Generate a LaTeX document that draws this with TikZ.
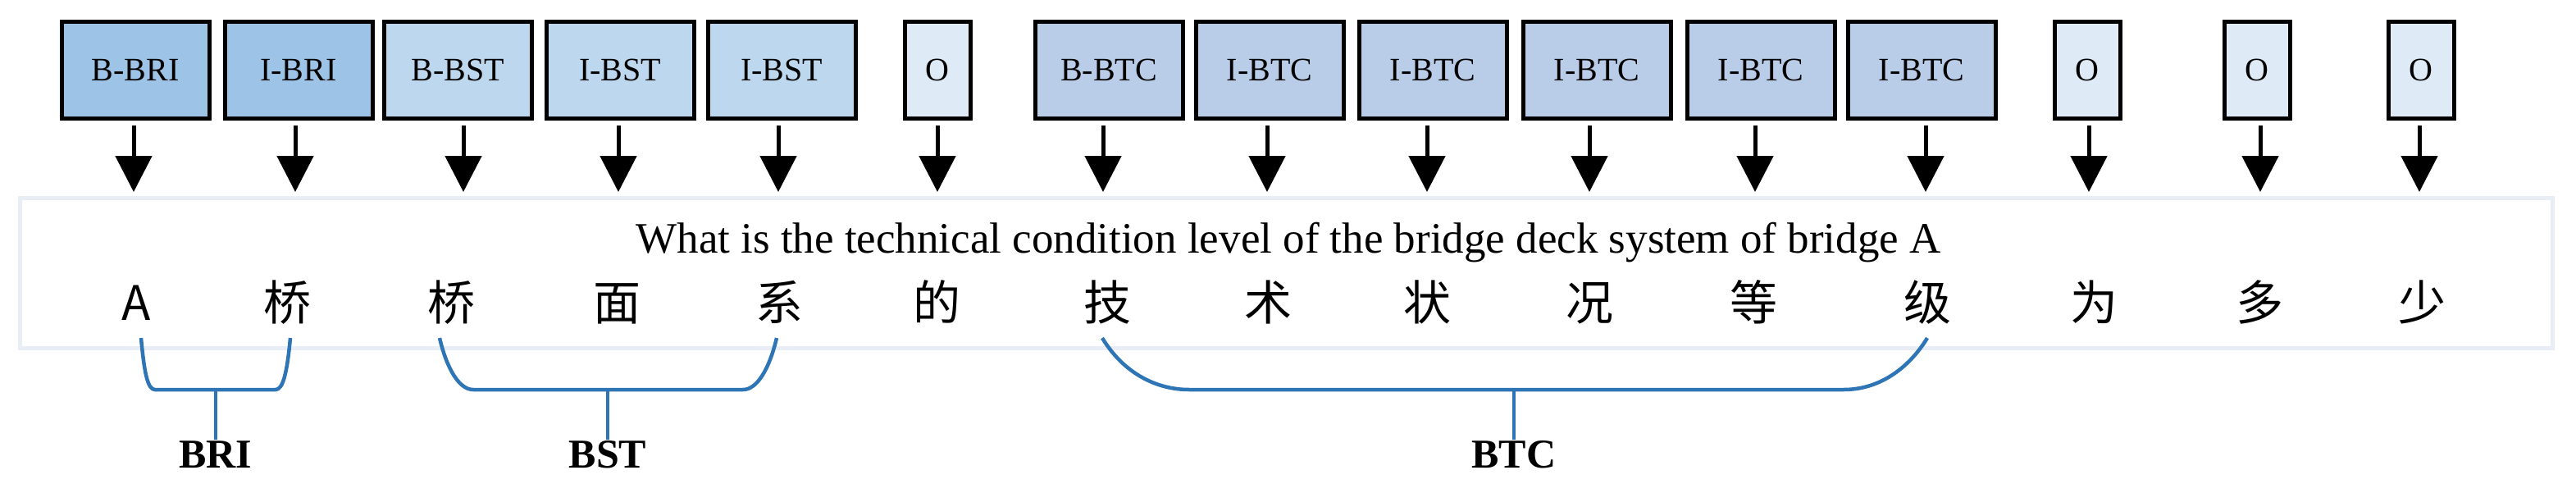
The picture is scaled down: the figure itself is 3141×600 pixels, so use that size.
\documentclass[tikz,border=0pt]{standalone}
\usepackage{fontspec}
\setmainfont{Liberation Serif}
\newfontfamily\cjk{Noto Sans CJK SC}
\usetikzlibrary{arrows.meta}
\definecolor{cbri}{HTML}{9DC3E6}
\definecolor{cbst}{HTML}{BDD7EE}
\definecolor{cbtc}{HTML}{BACDE8}
\definecolor{co}{HTML}{DEEBF7}
\definecolor{cbr}{HTML}{2E75B6}
\definecolor{cframe}{HTML}{E9EDF6}
\begin{document}
\begin{tikzpicture}[x=1pt,y=-1pt,
  tag/.style={draw=black,line width=5pt,minimum height=118pt,inner sep=0pt,font=\fontsize{40}{46}\selectfont},
  big/.style={tag,minimum width=180pt},
  small/.style={tag,minimum width=80pt},
  arr/.style={line width=5pt,-{Triangle[length=44pt,width=44pt]}},
  ch/.style={font=\fontsize{58}{64}\selectfont\cjk,anchor=base},
  br/.style={draw=cbr,line width=4.5pt},
  lab/.style={font=\fontsize{50}{56}\selectfont\bfseries,anchor=base}]
\useasboundingbox (0,0) rectangle (3141,600);
\draw[cframe,line width=5pt] (24,241) rectangle (3112,424);
\node[ch] (c1) at (166,390) {A};
\node[ch] (c2) at (350,390) {桥};
\node[ch] (c3) at (550,390) {桥};
\node[ch] (c4) at (752,390) {面};
\node[ch] (c5) at (950,390) {系};
\node[ch] (c6) at (1142,390) {的};
\node[ch] (c7) at (1350,390) {技};
\node[ch] (c8) at (1546,390) {术};
\node[ch] (c9) at (1740,390) {状};
\node[ch] (c10) at (1938,390) {况};
\node[ch] (c11) at (2138,390) {等};
\node[ch] (c12) at (2350,390) {级};
\node[ch] (c13) at (2553,390) {为};
\node[ch] (c14) at (2755,390) {多};
\node[ch] (c15) at (2953,390) {少};
\node[font=\fontsize{53}{60}\selectfont,anchor=base] (en) at (1571,308) {What is the technical condition level of the bridge deck system of bridge A};
\node[big,fill=cbri] (t1) at (165,85) {B-BRI};
\node[big,fill=cbri] (t2) at (364,85) {I-BRI};
\node[big,fill=cbst] (t3) at (558,85) {B-BST};
\node[big,fill=cbst] (t4) at (756,85) {I-BST};
\node[big,fill=cbst] (t5) at (953,85) {I-BST};
\node[small,fill=co] (t6) at (1143,85) {O};
\node[big,fill=cbtc] (t7) at (1352,85) {B-BTC};
\node[big,fill=cbtc] (t8) at (1548,85) {I-BTC};
\node[big,fill=cbtc] (t9) at (1747,85) {I-BTC};
\node[big,fill=cbtc] (t10) at (1947,85) {I-BTC};
\node[big,fill=cbtc] (t11) at (2147,85) {I-BTC};
\node[big,fill=cbtc] (t12) at (2343,85) {I-BTC};
\node[small,fill=co] (t13) at (2545,85) {O};
\node[small,fill=co] (t14) at (2752,85) {O};
\node[small,fill=co] (t15) at (2952,85) {O};
\foreach \i/\x in {1/163,2/360,3/565,4/754,5/949,6/1143,7/1345,8/1545,9/1740,10/1938,11/2140,12/2348,13/2547,14/2756,15/2950}{
  \coordinate (s\i) at (\x,153);
  \coordinate (e\i) at (\x,234);
  \draw[arr] (s\i) -- (e\i);
}
% brackets
\coordinate (b1l) at (172,412); \coordinate (b1r) at (354,412); \coordinate (b1m) at (263,475); \coordinate (b1s) at (263,536);
\draw[br] (b1l) .. controls (176,455) and (180,475) .. (189,475) -- (336,475) .. controls (345,475) and (350,455) .. (b1r);
\draw[br] (b1m) -- (b1s);
\node[lab] (l1) at (263,570) {BRI};
\coordinate (b2l) at (536,412); \coordinate (b2r) at (947,412); \coordinate (b2m) at (741,475); \coordinate (b2s) at (741,536);
\draw[br] (b2l) .. controls (545,450) and (560,475) .. (577,475) -- (906,475) .. controls (923,475) and (938,450) .. (b2r);
\draw[br] (b2m) -- (b2s);
\node[lab] (l2) at (741,570) {BST};
\coordinate (b3l) at (1344,412); \coordinate (b3r) at (2350,412); \coordinate (b3m) at (1846,475); \coordinate (b3s) at (1846,536);
\draw[br] (b3l) .. controls (1370,455) and (1410,475) .. (1450,475) -- (2248,475) .. controls (2295,475) and (2330,445) .. (b3r);
\draw[br] (b3m) -- (b3s);
\node[lab] (l3) at (1846,570) {BTC};
\end{tikzpicture}
\end{document}
